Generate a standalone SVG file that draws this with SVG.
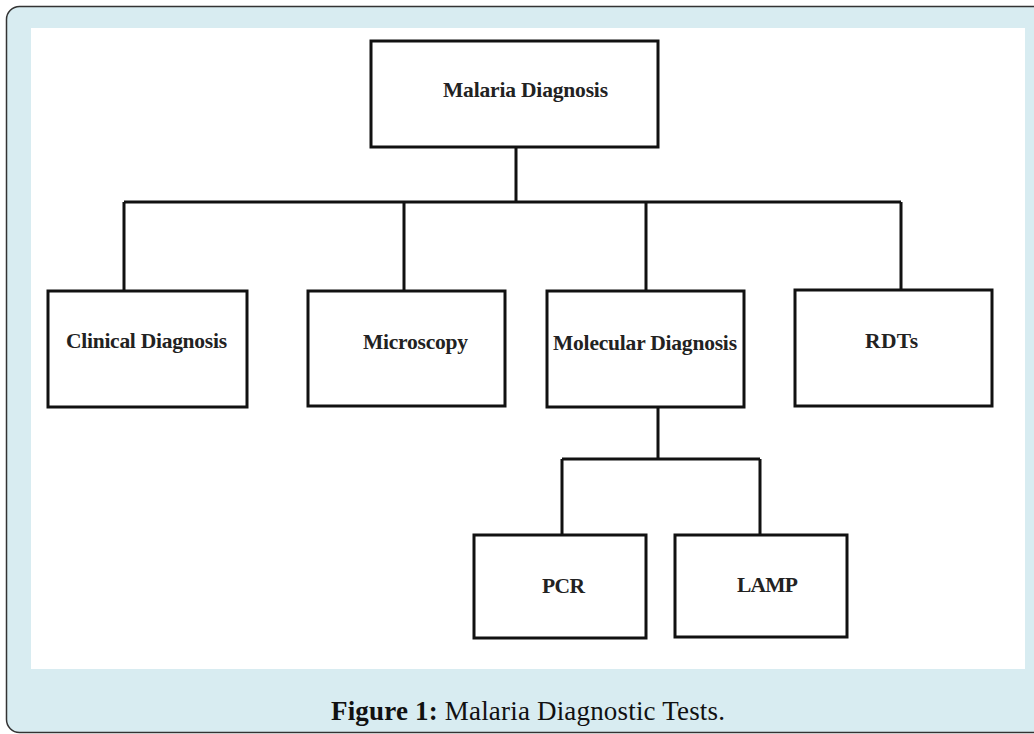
<svg xmlns="http://www.w3.org/2000/svg" width="1034" height="734" viewBox="0 0 1034 734">
<style>
.box{fill:#fff;stroke:#111;stroke-width:3}
.lbl{font-family:"Liberation Serif","Times New Roman",serif;font-weight:bold;font-size:21.5px;fill:#222}
.con{fill:none;stroke:#111;stroke-width:3}
.cap{font-family:"Liberation Serif","DejaVu Serif",serif;font-size:27px;fill:#111}
</style>
<rect x="6.5" y="6.5" width="1060" height="726" rx="13" fill="#d8ecf1" stroke="#333" stroke-width="1.5"/>
<rect x="31" y="28" width="994" height="641" fill="#fff"/>
<g id="connectors">
<path class="con" d="M516 147V202M124 202H901M124 202V290M404 202V290M646 202V290M901 202V290"/>
<path class="con" d="M658 407V459M562 459H760M562 459V534M760 459V534"/>
</g>
<g id="malaria-diagnosis"><rect class="box" x="371" y="41" width="287" height="106"/><text class="lbl" x="443" y="97" textLength="165">Malaria Diagnosis</text></g>
<g id="clinical-diagnosis"><rect class="box" x="48" y="291" width="199" height="116"/><text class="lbl" x="66" y="348" textLength="161">Clinical Diagnosis</text></g>
<g id="microscopy"><rect class="box" x="308" y="291" width="197" height="115"/><text class="lbl" x="363" y="349" textLength="105">Microscopy</text></g>
<g id="molecular-diagnosis"><rect class="box" x="547" y="291" width="197" height="116"/><text class="lbl" x="553" y="350" textLength="184">Molecular Diagnosis</text></g>
<g id="rdts"><rect class="box" x="795" y="290" width="197" height="116"/><text class="lbl" x="865" y="348" textLength="53">RDTs</text></g>
<g id="pcr"><rect class="box" x="474" y="535" width="172" height="103"/><text class="lbl" x="542" y="593" textLength="43">PCR</text></g>
<g id="lamp"><rect class="box" x="675" y="535" width="172" height="102"/><text class="lbl" x="737" y="592" textLength="61">LAMP</text></g>
<text class="cap" x="331" y="720" textLength="394"><tspan font-weight="bold">Figure 1:</tspan> Malaria Diagnostic Tests.</text>
</svg>
